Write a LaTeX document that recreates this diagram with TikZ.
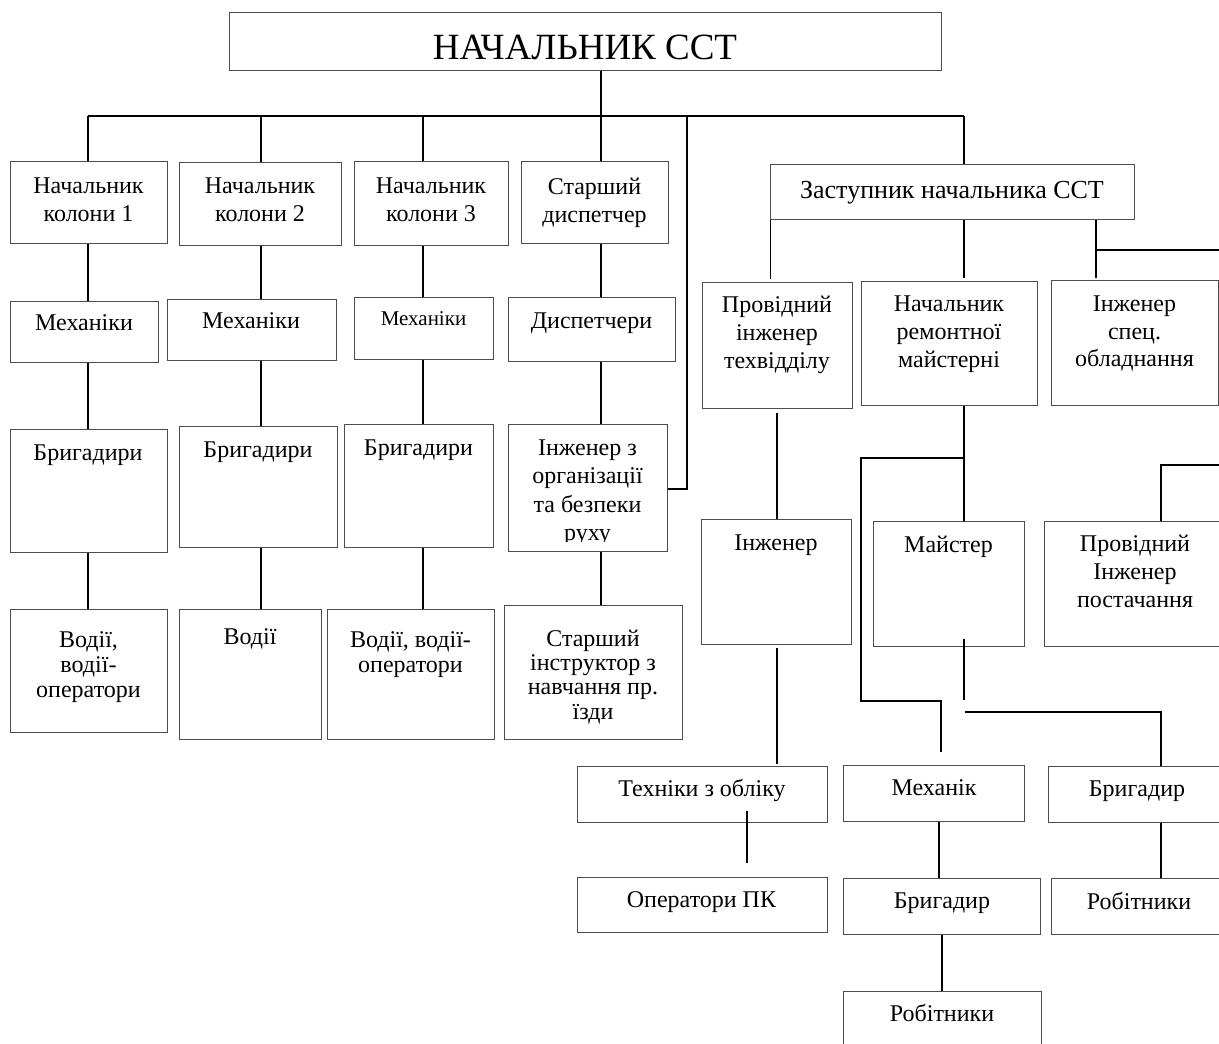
\documentclass[tikz,border=0pt]{standalone}
\usepackage{fontspec}
\setmainfont{Liberation Serif}
\usetikzlibrary{fit}
\begin{document}
\begin{tikzpicture}[x=1pt,y=-1pt,
  box/.style={draw=black!70, line width=1pt, rectangle, inner sep=0pt},
  txt/.style={align=center, inner sep=0pt, font=\fontsize{24}{28}\selectfont},
  txtb/.style={align=center, inner sep=0pt, font=\fontsize{24}{25}\selectfont},
  conn/.style={draw=black, line width=1.5pt}]
\useasboundingbox (0,0) rectangle (1219,1044);
\clip (0,0) rectangle (1219,1044);
\fill[white] (0,0) rectangle (1219,1044);

% ---------- boxes ----------
\node[box, fit={(229,12) (941,70)}] (title) {};
\node[box, fit={(10,161) (167,243)}] (n1) {};
\node[box, fit={(179,162) (341,245)}] (n2) {};
\node[box, fit={(354,161) (508,245)}] (n3) {};
\node[box, fit={(521,161) (668,243)}] (sd) {};
\node[box, fit={(10,301) (158,362)}] (m1) {};
\node[box, fit={(167,299) (336,360)}] (m2) {};
\node[box, fit={(354,297) (493,359)}] (m3) {};
\node[box, fit={(508,297) (675,361)}] (disp) {};
\node[box, fit={(10,429) (167,552)}] (br1) {};
\node[box, fit={(179,426) (337,547)}] (br2) {};
\node[box, fit={(344,424) (493,547)}] (br3) {};
\node[box, fit={(508,424) (667,551)}] (ing) {};
\node[box, fit={(10,609) (167,732)}] (v1) {};
\node[box, fit={(179,609) (321,739)}] (v2) {};
\node[box, fit={(327,609) (494,739)}] (v3) {};
\node[box, fit={(504,605) (682,739)}] (si) {};
\node[box, fit={(770,164) (1134,219)}] (zast) {};
\node[box, fit={(702,282) (852,408)}] (pi) {};
\node[box, fit={(861,281) (1037,405)}] (nrm) {};
\node[box, fit={(1051,280) (1218,405)}] (isp) {};
\node[box, fit={(701,519) (851,644)}] (inzh) {};
\node[box, fit={(873,521) (1024,646)}] (mai) {};
\node[box, fit={(1044,521) (1235,646)}] (pip) {};
\node[box, fit={(577,766) (827,822)}] (teh) {};
\node[box, fit={(577,877) (827,932)}] (op) {};
\node[box, fit={(843,765) (1024,821)}] (mech) {};
\node[box, fit={(843,878) (1040,934)}] (brm) {};
\node[box, fit={(843,991) (1041,1060)}] (rob) {};
\node[box, fit={(1048,766) (1235,822)}] (brr) {};
\node[box, fit={(1051,878) (1235,934)}] (robr) {};

% ---------- texts ----------
\node[txt, font=\fontsize{37}{40}\selectfont] (t-title) at (585,47) {НАЧАЛЬНИК ССТ};
\node[txt] (t-n1) at (88.5,200) {Начальник\\колони 1};
\node[txt] (t-n2) at (260,200) {Начальник\\колони 2};
\node[txt] (t-n3) at (431,200) {Начальник\\колони 3};
\node[txt] (t-sd) at (594.5,202.5) {Старший\\диспетчер};
\node[txt] (t-m1) at (84,322.5) {Механіки};
\node[txt] (t-m2) at (251,320.5) {Механіки};
\node[txt, font=\fontsize{21}{25}\selectfont] (t-m3) at (423.5,319) {Механіки};
\node[txt] (t-disp) at (591.5,323) {Диспетчери};
\node[txt] (t-br1) at (88,455) {Бригадири};
\node[txt] (t-br2) at (258,452) {Бригадири};
\node[txt] (t-br3) at (418.5,450) {Бригадири};
\begin{scope}
\clip (508,424) rectangle (667,541);
\node[txt, font=\fontsize{24}{28.3}\selectfont] (t-ing) at (587.5,492.6) {Інженер з\\організації\\та безпеки\\руху};
\end{scope}
\node[txtb] (t-v1) at (88.5,666.8) {Водії,\\водії-\\оператори};
\node[txtb] (t-v2) at (250,639) {Водії};
\node[txtb] (t-v3) at (410.5,654.3) {Водії, водії-\\оператори};
\node[txt, font=\fontsize{24}{24.3}\selectfont] (t-si) at (593,676.7) {Старший\\інструктор з\\навчання пр.\\їзди};
\node[txt, font=\fontsize{26}{30}\selectfont] (t-zast) at (952,192.2) {Заступник начальника ССТ};
\node[txt] (t-pi) at (777,335) {Провідний\\інженер\\техвідділу};
\node[txt] (t-nrm) at (949,334.5) {Начальник\\ремонтної\\майстерні};
\node[txt, font=\fontsize{24}{27.5}\selectfont] (t-isp) at (1134.5,333.8) {Інженер\\спец.\\обладнання};
\node[txt] (t-inzh) at (776,545) {Інженер};
\node[txt] (t-mai) at (948.5,546.8) {Майстер};
\node[txt] (t-pip) at (1135,571.3) {Провідний\\Інженер\\постачання};
\node[txt] (t-teh) at (702,790.8) {Техніки з обліку};
\node[txt] (t-op) at (701.5,901.8) {Оператори ПК};
\node[txt] (t-mech) at (934,787.5) {Механік};
\node[txt] (t-brm) at (942,903.4) {Бригадир};
\node[txt] (t-rob) at (942,1013.5) {Робітники};
\node[txt] (t-brr) at (1137,790.8) {Бригадир};
\node[txt] (t-robr) at (1139,900.8) {Робітники};

% ---------- connectors ----------
\coordinate (busL) at (88,116);
\coordinate (busR) at (964,116);
\draw[conn] (busL) -- (busR);
\draw[conn] (601,0 |- title.south) -- (601,0 |- busL);
\draw[conn] (busL) -- (88,0 |- n1.north);
\draw[conn] (261,0 |- busL) -- (261,0 |- n2.north);
\draw[conn] (423,0 |- busL) -- (423,0 |- n3.north);
\draw[conn] (601,0 |- busL) -- (601,0 |- sd.north);
\draw[conn] (busR) -- (964,0 |- zast.north);
\coordinate (j687) at (687,489);
\draw[conn] (687,0 |- busL) -- (j687) -- (ing.east |- j687);

% column A
\draw[conn] (88,0 |- n1.south) -- (88,0 |- m1.north);
\draw[conn] (88,0 |- m1.south) -- (88,0 |- br1.north);
\draw[conn] (88,0 |- br1.south) -- (88,0 |- v1.north);
% column B
\draw[conn] (261,0 |- n2.south) -- (261,0 |- m2.north);
\draw[conn] (261,0 |- m2.south) -- (261,0 |- br2.north);
\draw[conn] (261,0 |- br2.south) -- (261,0 |- v2.north);
% column C
\draw[conn] (423,0 |- n3.south) -- (423,0 |- m3.north);
\draw[conn] (423,0 |- m3.south) -- (423,0 |- br3.north);
\draw[conn] (423,0 |- br3.south) -- (423,0 |- v3.north);
% column D
\draw[conn] (601,0 |- sd.south) -- (601,0 |- disp.north);
\draw[conn] (601,0 |- disp.south) -- (601,0 |- ing.north);
\draw[conn] (601,0 |- ing.south) -- (601,0 |- si.north);

% deputy branch
\draw[conn, shorten >=3pt] (770.5,0 |- zast.south) -- (770.5,0 |- pi.north);
\draw[conn, shorten >=3pt] (964,0 |- zast.south) -- (964,0 |- nrm.north);
\draw[conn, shorten >=2pt] (1096,0 |- zast.south) -- (1096,0 |- isp.north);
\coordinate (ispR) at (1230,250);
\draw[conn] (1096,0 |- ispR) -- (ispR);

% technical dept
\draw[conn, shorten <=4pt] (777,0 |- pi.south) -- (777,0 |- inzh.north);
\draw[conn, shorten <=3pt, shorten >=2pt] (777,0 |- inzh.south) -- (777,0 |- teh.north);
\draw[conn] (747,0 |- teh.south) ++(0,-12) -- (747,863);
\coordinate (opTop) at (747,863);

% workshop
\draw[conn] (964,0 |- nrm.south) -- (964,0 |- mai.north);
\coordinate (kA) at (861,458);
\coordinate (kB) at (861,701);
\coordinate (kC) at (941,701);
\draw[conn, shorten >=13pt] (964,0 |- kA) -- (kA) -- (kB) -- (kC) -- (kC |- mech.north);
\coordinate (kD) at (964,700);
\draw[conn] (964,0 |- mai.south) ++(0,-8) -- (kD);
\coordinate (kE) at (964.6,712);
\coordinate (kF) at (1161,712);
\draw[conn] (kE) -- (kF) -- (kF |- brr.north);
\coordinate (kG) at (1161,465);
\coordinate (kH) at (1230,465);
\draw[conn] (1161,0 |- pip.north) -- (kG) -- (kH);
\draw[conn] (939,0 |- mech.south) -- (939,0 |- brm.north);
\draw[conn] (942,0 |- brm.south) -- (942,0 |- rob.north);
\draw[conn] (1161,0 |- brr.south) -- (1161,0 |- robr.north);
\end{tikzpicture}
\end{document}
